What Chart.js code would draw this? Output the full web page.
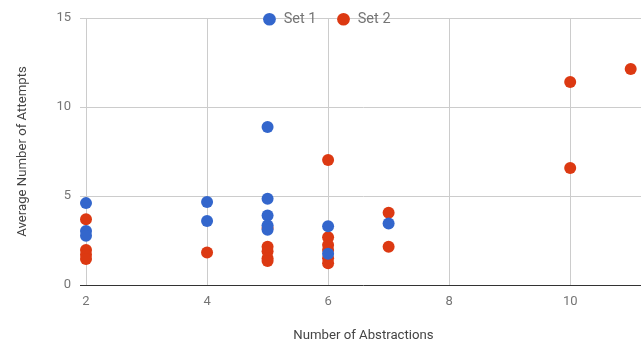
<!DOCTYPE html>
<html>
<head>
<meta charset="utf-8">
<script src="https://cdn.jsdelivr.net/npm/chart.js@4/dist/chart.umd.min.js"></script>
<style>
  html, body { margin: 0; padding: 0; background: #fff; }
  #wrap { width: 641px; height: 344px; }
</style>
</head>
<body>
<div id="wrap"><canvas id="myChart" width="641" height="344"></canvas></div>
<script>
// values
var Set1X = [2, 2, 2, 4, 4, 5, 5, 5, 5, 5, 6, 6, 7];
var Set1Y = [4.6, 3.03, 2.77, 4.66, 3.6, 8.88, 4.85, 3.9, 3.35, 3.1, 3.3, 1.75, 3.46];
var Set2X = [2, 2, 2, 2, 4, 5, 5, 5, 5, 5, 6, 6, 6, 6, 6, 6, 7, 7, 10, 10, 11];
var Set2Y = [3.7, 1.96, 1.7, 1.46, 1.82, 3.2, 2.15, 1.9, 1.5, 1.35, 7.02, 2.68, 2.25, 1.97, 1.5, 1.22, 4.06, 2.15, 11.4, 6.57, 12.13];
var Series = ['Set 1', 'Set 2'];
var Colores = ['#3366cc', '#dc3912'];

function Puntos(xs, ys)
{
    var out = [];
    for (var i = 0; i < xs.length; i++) out.push({ x: xs[i], y: ys[i] });
    return out;
}

// legend floats over the plot (takes no layout space)
var floatLegend = {
    id: 'floatLegend',
    afterInit: function(chart) {
        var lg = chart.legend;
        var fit = lg.fit;
        lg.fit = function() { fit.call(this); this.height = 0; };
    },
    afterLayout: function(chart) {
        chart.legend.top = -8;
        chart.legend.height = 48;
        chart.legend.bottom = 40;
        chart.legend.left = 6;
        chart.legend.right = 647;
    }
};

var ctx = document.getElementById('myChart').getContext('2d');
var chart = new Chart(ctx, {
    type: 'scatter',
    data: {
        datasets: [
            { label: Series[0], data: Puntos(Set1X, Set1Y), backgroundColor: Colores[0], borderColor: Colores[0], pointRadius: 6, pointHoverRadius: 6, borderWidth: 0, clip: false },
            { label: Series[1], data: Puntos(Set2X, Set2Y), backgroundColor: Colores[1], borderColor: Colores[1], pointRadius: 6, pointHoverRadius: 6, borderWidth: 0, clip: false }
        ]
    },
    options: {
        responsive: false,
        animation: false,
        layout: { autoPadding: false, padding: { top: 18, right: 0, left: 0, bottom: 0 } },
        plugins: {
            tooltip: { enabled: false },
            legend: {
                position: 'top',
                labels: {
                    usePointStyle: true,
                    pointStyle: 'circle',
                    boxWidth: 14,
                    boxHeight: 9,
                    padding: 20,
                    color: '#757575',
                    font: { family: 'Roboto', size: 14.5 }
                }
            }
        },
        scales: {
            x: {
                type: 'linear',
                min: 2,
                max: 11.17,
                afterFit: function(s) { s.height = 59; s.paddingLeft = 0; s.paddingRight = 0; },
                border: { display: false },
                grid: { color: '#cccccc', drawTicks: false },
                ticks: { stepSize: 2, includeBounds: false, padding: 9, color: '#757575', font: { family: 'Roboto', size: 13 } },
                title: { display: true, text: 'Number of Abstractions', color: '#444', font: { family: 'Roboto', size: 13.2 }, padding: { top: 0, bottom: 0 } }
            },
            y: {
                min: 0,
                max: 15,
                afterFit: function(s) { s.width = 86; },
                border: { display: false },
                grid: {
                    color: function(c) { return c.tick && c.tick.value === 0 ? '#333333' : '#cccccc'; },
                    tickLength: 6
                },
                ticks: { stepSize: 5, padding: 9, color: '#757575', font: { family: 'Roboto', size: 13 } },
                title: { display: true, text: 'Average Number of Attempts', color: '#444', font: { family: 'Roboto', size: 13.2 }, padding: { top: 15, bottom: 0 } }
            }
        }
    },
    plugins: [floatLegend]
});
</script>
</body>
</html>
